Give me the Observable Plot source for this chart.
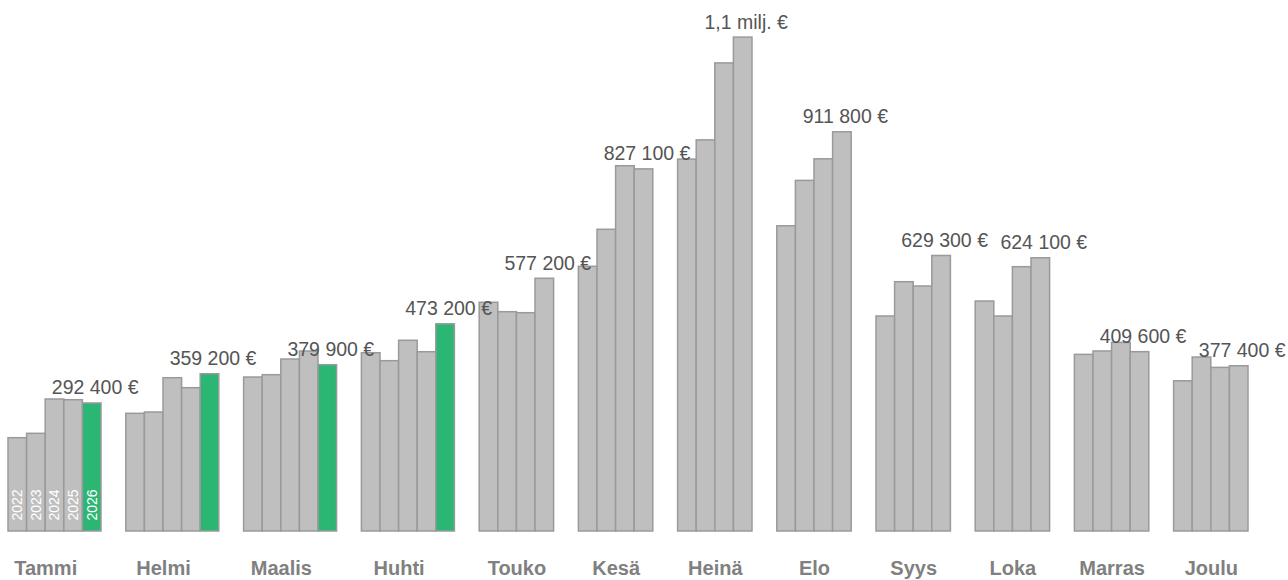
<!DOCTYPE html>
<html>
<head>
<meta charset="utf-8">
<script src="https://cdn.jsdelivr.net/npm/d3@7"></script>
<script src="https://cdn.jsdelivr.net/npm/@observablehq/plot@0.6"></script>
<style>
  html, body { margin: 0; padding: 0; background: #ffffff; }
  #chart svg { display: block; overflow: visible; }
</style>
</head>
<body>
<div id="chart"></div>
<script>
const months = ["Tammi","Helmi","Maalis","Huhti","Touko","Kesä","Heinä","Elo","Syys","Loka","Marras","Joulu"];
const years = [2022, 2023, 2024, 2025, 2026];
const v2022 = [213100, 268800, 351700, 407200, 522400, 604600, 849400, 697100, 491100, 525300, 403400, 343100];
const v2023 = [223100, 271800, 357000, 389000, 500900, 689100, 893300, 800800, 569400, 491100, 411200, 397300];
const v2024 = [301500, 350100, 392800, 435600, 498600, 834300, 1069100, 850100, 559600, 603700, 430800, 373700];
const v2025 = [299900, 327300, 411100, 409500, 577200, 827100, 1128100, 911800, 629300, 624100, 409600, 377400];
const v2026 = [292400, 359200, 379900, 473200, null, null, null, null, null, null, null, null];
const series = [v2022, v2023, v2024, v2025, v2026];
const currentYear = 2026;
const baseSlots = 4;        // month label centred on the 2022–2025 slots
const groupGap = 4 / 3;     // gap between month groups, in bar widths

// Build bar table from the arrays (slot positions derived from data order)
const bars = [];
const groups = [];
let pos = 0;
months.forEach((m, i) => {
  const start = pos;
  let last = null;
  years.forEach((yr, j) => {
    const v = series[j][i];
    if (v == null) return;
    const b = {month: m, year: yr, value: v, x1: pos, x2: pos + 1, xc: pos + 0.5, first: i === 0};
    bars.push(b);
    last = b;
    pos += 1;
  });
  groups.push({month: m, center: start + baseSlots / 2, last});
  if (i < months.length - 1) pos += groupGap;
});
const total = pos;

function fmt(v) {
  if (v >= 1e6) return (Math.round(v / 1e5) / 10).toFixed(1).replace(".", ",") + " milj. €";
  const r = Math.round(v / 100) * 100;
  return String(r).replace(/\B(?=(\d{3})+(?!\d))/g, " ") + " €";
}

const font = "Liberation Sans, Arial, Helvetica, sans-serif";

const chart = Plot.plot({
  width: 1288,
  height: 580,
  marginLeft: 8,
  marginRight: 40,
  marginTop: 27.5,
  marginBottom: 49,
  style: {fontFamily: font, background: "#ffffff", overflow: "visible"},
  x: {type: "linear", domain: [0, total], axis: null},
  y: {domain: [0, 1150000], axis: null},
  marks: [
    Plot.rectY(bars, {
      x1: "x1", x2: "x2", y: "value",
      fill: d => d.year === currentYear ? "#2bb673" : "#bfbfbf",
      stroke: "#9a9a9a", strokeWidth: 1.5
    }),
    Plot.text(bars.filter(d => d.first), {
      x: "xc", y: 0, text: d => String(d.year),
      rotate: -90, textAnchor: "start", lineAnchor: "middle",
      dy: -11, fill: "#ffffff", fontSize: 14, fontFamily: font
    }),
    Plot.text(groups, {
      x: d => d.last.xc, y: d => d.last.value, text: d => fmt(d.last.value),
      lineAnchor: "bottom", textAnchor: "middle", dx: 3, dy: -9,
      fill: "#555555", fontSize: 19.5, fontFamily: font
    }),
    Plot.text(groups, {
      x: "center", y: 0, text: "month",
      lineAnchor: "bottom", textAnchor: "middle", dy: 43,
      fill: "#808080", fontSize: 20, fontWeight: "bold", fontFamily: font
    })
  ]
});
document.getElementById("chart").appendChild(chart);
</script>
</body>
</html>
